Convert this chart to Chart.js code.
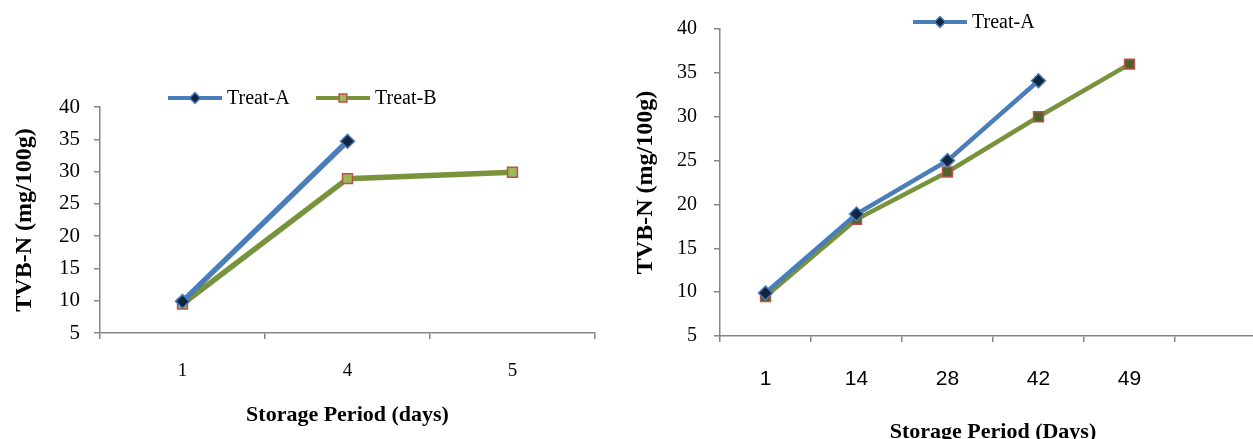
<!DOCTYPE html>
<html lang="en">
<head>
  <meta charset="UTF-8">
  <title>TVB-N Storage</title>
  <script src="https://cdn.jsdelivr.net/npm/chart.js"></script>
  <style>
    html, body {
      margin: 0;
      padding: 0;
      background: #fff;
      overflow: hidden;
      width: 1253px;
      height: 439px;
    }
    .box {
      position: absolute;
      top: 0;
    }
    #left-box { left: 0; width: 620px; height: 439px; }
    #right-box { left: 630px; width: 645px; height: 446px; }
  </style>
</head>
<body>
  <div class="box" id="left-box"><canvas id="leftChart"></canvas></div>
  <div class="box" id="right-box"><canvas id="rightChart"></canvas></div>

  <script>
    // data
    const leftDays = ["1", "4", "5"];
    const leftTreatA = [9.9, 34.7, null];
    const leftTreatB = [9.5, 28.9, 29.9];

    const rightDays = ["1", "14", "28", "42", "49", ""];
    const rightTreatA = [9.9, 18.9, 25.0, 34.1, null, null];
    const rightTreatB = [9.5, 18.3, 23.7, 30.0, 36.0, null];

    const yMin = 5, yMax = 40, yStep = 5;

    const SERIF = '"Liberation Serif", "Times New Roman", serif';
    const SANS = '"Liberation Sans", Arial, sans-serif';
    const AXIS = "#868686";
    const BLUE = "#4A7EBB";
    const GREEN = "#77933C";
    const RED = "#C0504D";
    const NAVY = "#10253F";

    Chart.defaults.font.family = SERIF;
    Chart.defaults.color = "#000";

    // legend drawn as line + marker sample, like the office style legend
    const lineLegend = {
      id: "lineLegend",
      afterDraw(chart, args, opts) {
        const ctx = chart.ctx;
        ctx.save();
        ctx.font = "20px " + SERIF;
        ctx.textBaseline = "middle";
        opts.items.forEach(item => {
          const ds = chart.data.datasets[item.index];
          const y = opts.y;
          ctx.strokeStyle = ds.borderColor;
          ctx.lineWidth = 4;
          ctx.beginPath();
          ctx.moveTo(item.x, y);
          ctx.lineTo(item.x + 54, y);
          ctx.stroke();
          ctx.fillStyle = ds.pointBackgroundColor;
          ctx.strokeStyle = ds.pointBorderColor;
          ctx.lineWidth = 1.5;
          Chart.helpers.drawPoint(ctx, {
            pointStyle: ds.pointStyle,
            radius: 5.5,
            rotation: 0,
            borderWidth: 1.5
          }, item.x + 27, y);
          ctx.fillStyle = "#000";
          ctx.fillText(ds.label, item.x + 59, y + 1);
        });
        ctx.restore();
      }
    };

    function makeOptions(cfg) {
      return {
        responsive: true,
        maintainAspectRatio: false,
        animation: false,
        layout: { padding: cfg.padding },
        plugins: {
          legend: { display: false },
          tooltip: { enabled: false },
          lineLegend: cfg.legend
        },
        scales: {
          x: {
            offset: true,
            afterFit: s => { s.height = cfg.xHeight; },
            grid: {
              offset: true,
              drawOnChartArea: false,
              color: AXIS,
              lineWidth: 1.5,
              tickLength: 6
            },
            border: { color: AXIS, width: 1.5 },
            ticks: {
              padding: cfg.xTickPad,
              font: cfg.xTickFont,
              color: "#000",
              maxRotation: 0
            },
            title: {
              display: true,
              text: cfg.xTitle,
              font: { size: 22, weight: "bold", family: SERIF },
              padding: { top: 0, bottom: cfg.xTitlePad }
            }
          },
          y: {
            min: yMin,
            max: yMax,
            afterFit: s => { s.width = cfg.yWidth; },
            grid: {
              drawOnChartArea: false,
              color: AXIS,
              lineWidth: 1.5,
              tickLength: 6
            },
            border: { color: AXIS, width: 1.5 },
            ticks: {
              stepSize: yStep,
              padding: cfg.yTickPad,
              font: { size: cfg.yTickSize, family: SERIF },
              color: "#000"
            },
            title: {
              display: true,
              text: "TVB-N (mg/100g)",
              font: { size: 24, weight: "bold", family: SERIF },
              padding: { top: cfg.yTitlePad, bottom: 0 }
            }
          }
        }
      };
    }

    function seriesA(data, width) {
      return {
        label: "Treat-A",
        data: data,
        borderColor: BLUE,
        borderWidth: width,
        pointStyle: "rectRot",
        pointRadius: 7,
        pointBackgroundColor: NAVY,
        pointBorderColor: BLUE,
        pointBorderWidth: 1.5
      };
    }

    function seriesB(data, width, fill) {
      return {
        label: "Treat-B",
        data: data,
        borderColor: GREEN,
        borderWidth: width,
        pointStyle: "rect",
        pointRadius: 7,
        pointBackgroundColor: fill,
        pointBorderColor: RED,
        pointBorderWidth: 1.5
      };
    }

    new Chart(document.getElementById("leftChart"), {
      type: "line",
      data: {
        labels: leftDays,
        datasets: [seriesA(leftTreatA, 5.5), seriesB(leftTreatB, 5.5, "#9BBB59")]
      },
      options: makeOptions({
        padding: { top: 107, right: 25, bottom: 0, left: 0 },
        xHeight: 106,
        yWidth: 100,
        xTickPad: 21,
        yTickPad: 14,
        yTickSize: 21,
        xTickFont: { size: 19, family: SERIF },
        xTitle: "Storage Period (days)",
        xTitlePad: 10,
        yTitlePad: 10,
        legend: { y: 98, items: [{ index: 0, x: 168 }, { index: 1, x: 316 }] }
      }),
      plugins: [lineLegend]
    });

    new Chart(document.getElementById("rightChart"), {
      type: "line",
      data: {
        labels: rightDays,
        datasets: [seriesA(rightTreatA, 4.5), seriesB(rightTreatB, 4.5, "#4F6228")]
      },
      options: makeOptions({
        padding: { top: 22, right: 9, bottom: 0, left: 0 },
        xHeight: 110,
        yWidth: 90,
        xTickPad: 25,
        yTickPad: 17,
        yTickSize: 20,
        xTickFont: { size: 21, family: SANS },
        xTitle: "Storage Period (Days)",
        xTitlePad: 0,
        yTitlePad: 1,
        legend: { y: 22, items: [{ index: 0, x: 283 }] }
      }),
      plugins: [lineLegend]
    });
  </script>
</body>
</html>
